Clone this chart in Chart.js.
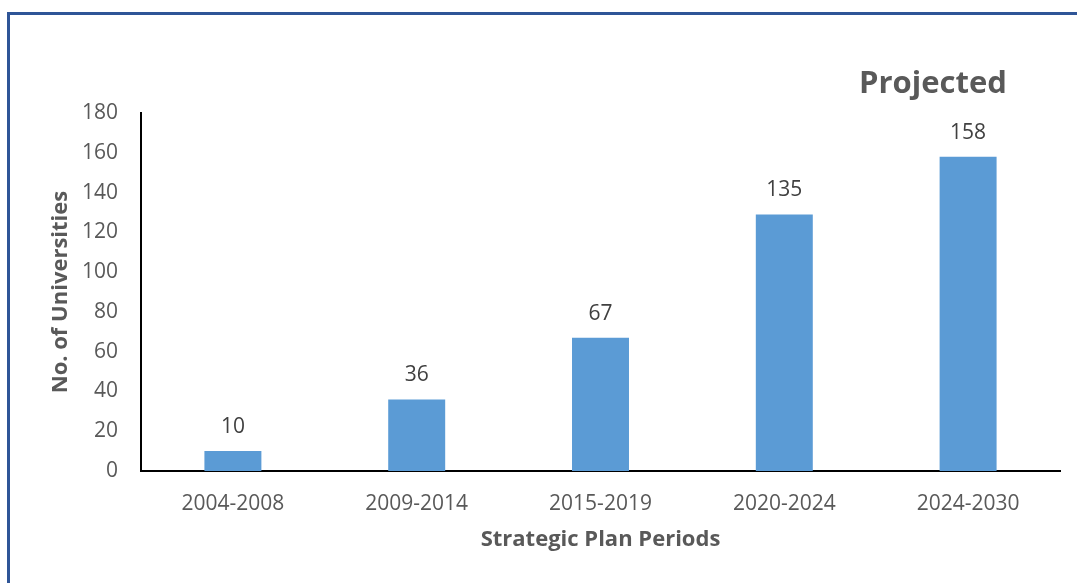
<!DOCTYPE html>
<html>
<head>
<meta charset="utf-8">
<script src="https://cdn.jsdelivr.net/npm/chart.js@4/dist/chart.umd.min.js"></script>
<style>
  html, body { margin: 0; padding: 0; background: #fff; }
  #wrap { position: relative; width: 1077px; height: 583px; overflow: hidden; }
  #frame { position: absolute; left: 7px; top: 12px; width: 1200px; height: 800px;
           border-top: 3px solid #2f5597; border-left: 3px solid #2f5597; box-sizing: border-box; }
  canvas { position: absolute; left: 0; top: 0; }
</style>
</head>
<body>
<div id="wrap">
  <div id="frame"></div>
  <canvas id="c" width="1077" height="583"></canvas>
</div>
<script>
const categories = ['2004-2008', '2009-2014', '2015-2019', '2020-2024', '2024-2030'];
const barValues = [10, 36, 67, 129, 158];
const labelValues = ['10', '36', '67', '135', '158'];
const yTicks = [0, 20, 40, 60, 80, 100, 120, 140, 160, 180];
const annotationText = 'Projected';
const xTitle = 'Strategic Plan Periods';
const yTitle = 'No. of Universities';

const FONT = "'Open Sans', 'DejaVu Sans', sans-serif";

const labelPlugin = {
  id: 'barLabels',
  afterDatasetsDraw(chart) {
    const ctx = chart.ctx;
    const meta = chart.getDatasetMeta(0);
    ctx.save();
    ctx.font = '21px ' + FONT;
    ctx.fillStyle = '#404040';
    ctx.textAlign = 'center';
    ctx.textBaseline = 'middle';
    meta.data.forEach((bar, i) => {
      ctx.fillText(labelValues[i], bar.x, bar.y - 24);
    });
    ctx.font = 'bold 31px ' + FONT;
    ctx.fillStyle = '#595959';
    ctx.textAlign = 'left';
    ctx.textBaseline = 'alphabetic';
    ctx.fillText(annotationText, 859, 93);
    ctx.restore();
  }
};

new Chart(document.getElementById('c'), {
  type: 'bar',
  data: {
    labels: categories,
    datasets: [{
      data: barValues,
      backgroundColor: '#5b9bd5',
      borderWidth: 0,
      barPercentage: 1,
      categoryPercentage: 0.31
    }]
  },
  options: {
    responsive: false,
    animation: false,
    devicePixelRatio: 1,
    layout: { padding: { left: 48, right: 17, top: 113, bottom: 30 } },
    plugins: { legend: { display: false }, tooltip: { enabled: false }, title: { display: false } },
    scales: {
      x: {
        grid: { display: false, drawTicks: false },
        border: { display: true, color: '#000', width: 2 },
        ticks: { color: '#595959', font: { family: FONT, size: 21 }, padding: 20, maxRotation: 0 },
        title: { display: true, text: xTitle, color: '#595959', padding: 0,
                 font: { family: FONT, size: 22, weight: 'bold' } },
        afterFit(s) { s.height = 82; }
      },
      y: {
        min: 0, max: 180,
        afterBuildTicks(s) { s.ticks = yTicks.map(v => ({ value: v })); },
        grid: { display: false, drawTicks: false },
        border: { display: true, color: '#000', width: 2 },
        ticks: { color: '#595959', font: { family: FONT, size: 21 }, padding: 23 },
        title: { display: true, text: yTitle, color: '#595959', padding: 0,
                 font: { family: FONT, size: 22, weight: 'bold' } },
        afterFit(s) { s.width = 93; }
      }
    }
  },
  plugins: [labelPlugin]
});
</script>
</body>
</html>
